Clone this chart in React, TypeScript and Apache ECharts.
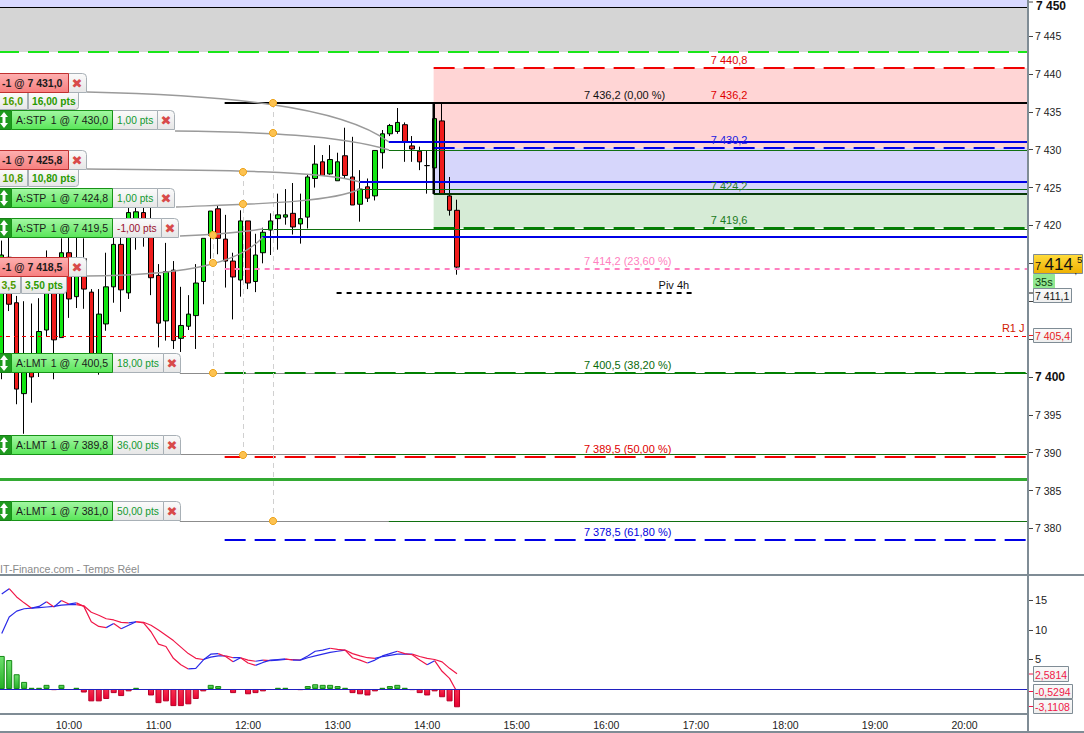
import React, { useEffect, useRef } from "react";
import * as echarts from "echarts";

const FONT = "'Liberation Sans', Arial, sans-serif";
const SLOTS = 138;
const categories: string[] = Array.from({ length: SLOTS }, (_, i) => {
  const m = 9 * 60 + 15 + i * 5;
  return `${String(Math.floor(m / 60)).padStart(2, "0")}:${String(m % 60).padStart(2, "0")}`;
});

const opens = [7400.8,7415.8,7409.8,7397.8,7402.1,7400.8,7406.2,7412,7405.2,7416.4,7410.6,7415.6,7411.2,7400.8,7407,7411.9,7417.5,7411.1,7419.6,7421.7,7420,7413.4,7407.4,7414.1,7405.1,7406.7,7408.1,7412.6,7418.7,7422.2,7418.2,7415.3,7412.8,7420.6,7412.6,7416.4,7419.4,7420.9,7421.1,7421.6,7420.2,7421.1,7426.2,7428.4,7426.8,7425.9,7429.2,7426.4,7422.8,7425.1,7423.9,7429.6,7432.1,7432.4,7433.3,7430.5,7429.8,7427.9,7427.6,7433.8,7423.9,7422];
const closes = [7416.1,7409.6,7398.4,7400.8,7400,7406,7411.6,7404.9,7416.4,7410.3,7415.1,7411.6,7401.5,7408.3,7411.9,7417.5,7411.5,7421.7,7421.8,7419.8,7413.1,7407.1,7413.9,7404.8,7406.8,7408.3,7412.4,7418.3,7421.9,7418.3,7415.3,7413.2,7420.6,7412.4,7416.1,7419.1,7420.6,7421.4,7421.4,7419.8,7420.9,7426.4,7428.1,7426.6,7428.7,7428.4,7426.6,7422.7,7424.8,7423.6,7429.9,7432.1,7433.2,7433.6,7431,7430.1,7428.4,7427.9,7434.1,7424.2,7422,7414.5];
const lows = [7399.7,7408.7,7396.4,7392.5,7396.6,7400,7405.3,7399.7,7405.2,7407.8,7409.1,7409,7401.5,7400.3,7406.1,7409.8,7408.6,7410.3,7416.8,7417.2,7410.8,7403.9,7404.8,7403.7,7403.3,7406.2,7403.7,7409.6,7415.6,7416.2,7411.8,7407.6,7410.6,7411.6,7411.2,7415,7416.1,7416.8,7420.1,7418.8,7417.6,7419.6,7425,7426.6,7426.7,7425.9,7426.2,7422.7,7420.5,7423.1,7423.3,7427.5,7431.8,7432.1,7428.4,7428.4,7427.3,7424.2,7424.2,7424.2,7421.3,7413.5];
const highs = [7418,7418.4,7410.7,7410,7409.7,7410.4,7416.7,7414,7418.3,7418.4,7418.4,7418.3,7411.6,7411.6,7416.4,7418.5,7418.4,7422.6,7422.6,7422.6,7422.4,7414.9,7417.7,7415.3,7411.9,7410.8,7414.9,7418.3,7421.9,7422.7,7421.4,7416.4,7422,7420.6,7418.9,7419.7,7421.6,7424.2,7424.8,7425.6,7424.2,7426.8,7430.6,7429.3,7430.6,7429.6,7432.9,7431.7,7427.3,7426.2,7429.9,7432.6,7433.4,7435.5,7433.6,7431.8,7430.4,7429.9,7436.1,7436.2,7426.4,7423.4];

const fastLine = [16.1,17,15.6,14.6,13.7,14,14.8,13.9,15,14.4,14.6,14,11.4,10.6,10.4,11.1,10.2,10.8,11.4,11.2,9.7,7.6,7.2,5.2,4.1,3.4,3.5,4.9,5.9,6,5.5,4.6,5.3,4.4,4,4.5,4.9,5,5.1,4.9,4.9,5.6,6.4,6.6,6.9,6.7,6.6,5.3,4.9,4.4,4.9,5.6,6,6.4,6,5.8,4.9,4.1,4.8,3,1.8,-0.5];
const slowLine = [9.4,12.2,13.2,13.6,13.7,13.8,13.9,14,14.2,14.3,14.3,14.1,13,12.5,11.9,11.7,11.3,11.2,11.4,11.3,10.8,10,9.1,8.2,7.1,6,5.2,5,5.4,5.6,5.6,5.3,5.3,4.9,4.7,4.9,4.8,4.9,5,5,4.9,5.3,5.6,5.9,6.2,6.4,6.6,6,5.6,5.3,5.2,5.5,5.7,5.9,5.9,5.9,5.5,5.2,5,4.6,3.5,2.6];
const histogram = [5.6,4.9,2.5,1.2,0.2,0.2,0.7,-0.2,0.7,0,0.2,-0.6,-2.1,-2.1,-1.7,-0.7,-1.2,-0.4,0.2,0,-1.1,-2.4,-2.1,-2.9,-2.9,-2.6,-1.7,-0.4,0.7,0.5,0,-0.7,0,-0.9,-0.7,-0.4,0,0.2,0.2,0,-0.2,0.5,0.8,0.7,0.7,0.5,0.2,-0.7,-0.9,-1.1,-0.4,0.2,0.5,0.7,0.2,-0.2,-0.7,-1.1,-0.4,-1.4,-2.1,-3.1];

const priceTicks = [7380,7385,7390,7395,7400,7405,7410,7415,7420,7425,7430,7435,7440,7445];
const priceLabels = [7380,7385,7390,7395,7400,7420,7425,7430,7435,7440,7445];
const indicatorTicks = [5,10,15];

const bandPrices = [[7449.8,7448.8],[7448.8,7442.9],[7440.8,7430.2],[7430.2,7424.2],[7424.2,7419.6]];
const bandStyles = [{ from: 0, fill: "#d9d9ff" },{ from: 0, fill: "#d5d5d5" },{ from: 58, fill: "#ffd5d5" },{ from: 58, fill: "#d6d6fb" },{ from: 58, fill: "#d6ebd6" }];

const levelPrices = [7448.8,7442.9,7440.8,7436.2,7431,7430.2,7430,7425.8,7424.8,7424.2,7419.6,7419.5,7418.5,7414.2,7411.1,7405.4,7400.5,7400.5,7400.5,7389.8,7389.8,7389.5,7386.5,7381,7381,7378.5];
const LONG = [21, 9];
const levelStyles: any[] = [
  { from: 0, color: "#000", w: 1 },
  { from: 0, color: "#19e619", w: 2, dash: LONG },
  { from: 58, color: "#f00000", w: 2, dash: LONG },
  { from: 30, color: "#000", w: 2 },
  { from: 52, color: "#0000e6", w: 2 },
  { from: 58, color: "#0000e6", w: 2, dash: LONG },
  { from: 52, color: "#107010", w: 1 },
  { from: 48, color: "#0000e6", w: 2 },
  { from: 48, color: "#107010", w: 1 },
  { from: 58, color: "#063a06", w: 2 },
  { from: 58, color: "#008000", w: 2, dash: LONG },
  { from: 35, color: "#107010", w: 1 },
  { from: 35, color: "#0000e6", w: 2 },
  { from: 30, color: "#ff80c0", w: 2, dash: [5, 5] },
  { from: 45, to: 93, color: "#000", w: 2, dash: [5, 5] },
  { from: 0, color: "#f00000", w: 1, dash: [4, 4] },
  { from: 24, to: 48, color: "#8c8c8c", w: 1 },
  { from: 48, color: "#107010", w: 1 },
  { from: 30, color: "#008000", w: 2, dash: LONG },
  { from: 24, to: 48, color: "#8c8c8c", w: 1 },
  { from: 48, color: "#107010", w: 1 },
  { from: 30, color: "#f00000", w: 2, dash: LONG },
  { from: 0, color: "#33aa33", w: 3 },
  { from: 24, to: 52, color: "#8c8c8c", w: 1 },
  { from: 52, color: "#107010", w: 1 },
  { from: 30, color: "#0000e6", w: 2, dash: LONG },
];

const labelTexts = ["7 440,8","7 436,2 (0,00 %)","7 436,2","7 430,2","7 424,2","7 419,6","7 414,2 (23,60 %)","Piv 4h","R1 J","7 400,5 (38,20 %)","7 389,5 (50,00 %)","7 378,5 (61,80 %)"];
const labelPrices = [7440.8,7436.2,7436.2,7430.2,7424.2,7419.6,7414.2,7411.1,7405.4,7400.5,7389.5,7378.5];
const labelCats = [95,78,95,95,95,95,78,88,134,78,78,78];
const labelColors = ["#e00000","#111","#e00000","#2020e0","#2a7a2a","#1a7a1a","#ff80c0","#111","#d02000","#0a6a0a","#e00000","#0000e0"];

function slopeRuns(values: number[]) {
  const runs: any[] = [];
  let start = 0;
  const up = (i: number) => values[i + 1] >= values[i];
  for (let i = 1; i <= values.length - 1; i++) {
    if (i === values.length - 1 || up(i) !== up(start)) {
      const data = values.map((v, k) => (k >= start && k <= i ? v : null));
      runs.push({
        type: "line", xAxisIndex: 1, yAxisIndex: 1, data, showSymbol: false, silent: true, z: 4,
        connectNulls: false, lineStyle: { width: 1.2, color: up(start) ? "#2a2ae8" : "#f01848" },
      });
      start = i;
    }
  }
  return runs;
}

const grad = (a: string, b: string) => new echarts.graphic.LinearGradient(0, 0, 0, 1, [{ offset: 0, color: a }, { offset: 1, color: b }]);
const FRAME = "#7f8c95";
const GRAY_BOX = "#a8b0b6";

function txt(x: number, y: number, text: string, fill: string, size = 10.5, weight: any = "normal", align = "left", z = 20) {
  return { type: "text", x, y, z, silent: true, style: { text, fill, fontSize: size, fontWeight: weight, fontFamily: FONT, align, verticalAlign: "middle" } };
}
function box(x: number, y: number, w: number, h: number, fill: any, stroke: string, r: any = 0, z = 19) {
  return { type: "rect", z, silent: true, shape: { x: x + 0.5, y: y + 0.5, width: w - 1, height: h - 1, r }, style: { fill, stroke, lineWidth: 1 } };
}
function cross(x: number, y: number, z = 21) {
  return { type: "text", x, y, z, silent: true, style: { text: "\u2716", fill: "#d84a4a", fontSize: 13, fontFamily: "'DejaVu Sans'", align: "center", verticalAlign: "middle" } };
}
function updown(cx: number, cy: number) {
  const s = { fill: "#fff" };
  return [
    { type: "polygon", z: 21, silent: true, shape: { points: [[cx, cy - 8], [cx + 4, cy - 3], [cx - 4, cy - 3]] }, style: s },
    { type: "polygon", z: 21, silent: true, shape: { points: [[cx, cy + 8], [cx + 4, cy + 3], [cx - 4, cy + 3]] }, style: s },
    { type: "rect", z: 21, silent: true, shape: { x: cx - 1.5, y: cy - 4, width: 3, height: 8 }, style: s },
  ];
}
function orderPill(y: number, kind: string, order: string, pts: string, ptsColor: string, boxEnd: number) {
  const h = 20, cy = y + h / 2;
  return [
    box(108, y, boxEnd - 108, h, grad("#fbfbfb", "#e6e6e6"), GRAY_BOX, 0),
    box(boxEnd - 1, y, 18, h, grad("#fbfbfb", "#e6e6e6"), GRAY_BOX, [0, 4, 0, 0]),
    cross(boxEnd + 8, cy),
    box(-2, y, 14, h, "#1f9a1f", "#158015", 0),
    ...updown(4, cy),
    box(11, y, 102, h, grad("#a4f7a4", "#58e658"), "#179317", 0),
    txt(16, cy, kind, "#1a1a1a", 10.5),
    txt(108, cy, order, "#1a1a1a", 10.5, "normal", "right"),
    txt(117, cy, pts, ptsColor, 10.2),
  ];
}
function closePill(y: number, order: string, short: string, pts: string, w1: number, w2: number) {
  const h = 20, cy = y + h / 2, h2 = 18;
  return [
    box(-2, y + h - 1, w1 + 2, h2, grad("#fbfbfb", "#e6e6e6"), GRAY_BOX, 0),
    box(w1, y + h - 1, w2, h2, grad("#fbfbfb", "#e6e6e6"), GRAY_BOX, [0, 0, 3, 0]),
    txt(w1 - 5, y + h + 8, short, "#4d9a00", 10.5, "bold", "right"),
    txt(w1 + 4, y + h + 8, pts, "#2a9a00", 10.2, "bold"),
    box(68, y, 19, h, grad("#fbfbfb", "#e6e6e6"), GRAY_BOX, [0, 4, 0, 0]),
    cross(77, cy),
    box(-2, y, 71, h, grad("#fdb0b0", "#f77f7f"), "#c03030", 0),
    txt(2, cy, order, "#1a1a1a", 10.5, "bold"),
  ];
}
function connector(x1: number, y1: number, c1x: number, c1y: number, c2x: number, c2y: number, x2: number, y2: number) {
  return { type: "bezierCurve", z: 8, silent: true, shape: { x1, y1, cpx1: c1x, cpy1: c1y, cpx2: c2x, cpy2: c2y, x2, y2 }, style: { stroke: "#9a9a9a", lineWidth: 1.4, fill: "none" } };
}
function handle(x: number, y: number) {
  return { type: "circle", z: 9, silent: true, shape: { cx: x, cy: y, r: 3.6 }, style: { fill: "#fdc250", stroke: "#eda520", lineWidth: 1 } };
}
function vDash(x: number, y1: number, y2: number) {
  return { type: "line", z: 6, silent: true, shape: { x1: x + 0.5, y1, x2: x + 0.5, y2 }, style: { stroke: "#d0d0d0", lineWidth: 1, lineDash: [5, 4] } };
}
function rule(x1: number, y1: number, x2: number, y2: number, color = FRAME, lineWidth = 2, z = 12) {
  return { type: "line", z, silent: true, shape: { x1, y1, x2, y2 }, style: { stroke: color, lineWidth } };
}
function valueTag(y: number, w: number, h: number, text: string, color: string) {
  return [
    rule(1029, y + h / 2, 1033, y + h / 2, color, 1, 13),
    box(1033, y, w, h, grad("#fafafa", "#eeeeee"), FRAME, 0, 14),
    txt(1035, y + h / 2 + 0.5, text, color, 10.5, "normal", "left", 15),
  ];
}

const greenPts = "#129a30";
const overlays: any[] = [
  vDash(213, 235, 373), vDash(243, 172, 455), vDash(273, 103, 520),
  connector(87, 92, 220, 95, 340, 105, 389, 142),
  connector(175, 131, 260, 132, 340, 135, 389, 150),
  connector(87, 169, 200, 170, 320, 170, 360, 182),
  connector(176, 207, 250, 204, 330, 203, 360, 189),
  connector(180, 236, 205, 235, 235, 233, 263, 229),
  connector(87, 276, 170, 275, 235, 268, 263, 237),
  handle(273, 103), handle(273, 133), handle(243, 172), handle(243, 204), handle(213, 235), handle(213, 263), handle(213, 373), handle(243, 455), handle(273, 521),
  rule(433.5, 102, 433.5, 194, "#000", 2, 7),
  ...orderPill(110, "A:STP", "1 @ 7 430,0", "1,00 pts", greenPts, 158),
  ...closePill(73, "-1 @ 7 431,0", "16,0", "16,00 pts", 28, 51),
  ...orderPill(188, "A:STP", "1 @ 7 424,8", "1,00 pts", greenPts, 158),
  ...closePill(150, "-1 @ 7 425,8", "10,8", "10,80 pts", 28, 51),
  ...orderPill(218, "A:STP", "1 @ 7 419,5", "-1,00 pts", "#9a1030", 162),
  ...closePill(257, "-1 @ 7 418,5", "3,5", "3,50 pts", 21, 46),
  ...orderPill(353, "A:LMT", "1 @ 7 400,5", "18,00 pts", greenPts, 164),
  ...orderPill(435, "A:LMT", "1 @ 7 389,8", "36,00 pts", greenPts, 164),
  ...orderPill(501, "A:LMT", "1 @ 7 381,0", "50,00 pts", greenPts, 164),
  txt(0, 569, "IT-Finance.com - Temps R\u00e9el", "#8a8a8a", 10.7, "normal", "left", 11),
  rule(0, 575, 1084, 575), rule(0, 714, 1028, 714), rule(0, 732, 1084, 732), rule(1028, 0, 1028, 732),
  rule(1029, 2, 1033, 2, "#444", 1),
  txt(1036, 6, "7 450", "#111", 12, "bold", "left", 15),
  box(1033, 254, 50, 20, grad("#ffdc3c", "#eeb000"), FRAME, 0, 14),
  txt(1035, 266, "7", "#111", 11, "normal", "left", 15),
  txt(1044.5, 264, "414", "#111", 17, "normal", "left", 15),
  txt(1074.5, 271, ",", "#111", 9, "normal", "left", 15),
  txt(1077, 259, "5", "#111", 9.5, "normal", "left", 15),
  box(1033, 274, 22, 16, "#92e892", "#92e892", 0, 13),
  txt(1035, 282, "35s", "#0d3d0d", 11, "normal", "left", 15),
  rule(1029, 293, 1033, 293, "#111", 1, 13),
  box(1033, 288, 39, 15, grad("#fafafa", "#eeeeee"), FRAME, 0, 14),
  txt(1035, 296, "7 411,1", "#111", 10.5, "normal", "left", 15),
  ...valueTag(328, 39, 15, "7 405,4", "#e82020"),
  ...valueTag(666, 36, 16, "2,5814", "#f01848"),
  ...valueTag(684, 40, 15, "-0,5294", "#f01848"),
  ...valueTag(699, 40, 15, "-3,1108", "#f01848"),
];

export default function App() {
  const ref = useRef<HTMLDivElement>(null);
  useEffect(() => {
    document.body.style.margin = "0";
    const chart = echarts.init(ref.current!, undefined, { renderer: "svg" });
    const candleData = opens.map((o, i) => [o, closes[i], lows[i], highs[i]]);
    const barData = histogram.map((v) => ({
      value: v === 0 ? null : v,
      itemStyle: v > 0
        ? { color: grad("#6ee06e", "#25b025"), borderColor: "#148a14", borderWidth: 1 }
        : { color: grad("#f83050", "#e80030"), borderColor: "#b80028", borderWidth: 1 },
    }));
    chart.setOption({
      animation: false,
      backgroundColor: "#fff",
      grid: [
        { left: -2, right: 56, top: 0, height: 575, outerBoundsMode: "none" },
        { left: -2, right: 56, top: 575, height: 139, outerBoundsMode: "none" },
      ],
      xAxis: [
        { type: "category", gridIndex: 0, data: categories, show: false, boundaryGap: true },
        {
          type: "category", gridIndex: 1, data: categories, boundaryGap: true,
          axisLine: { show: false },
          axisTick: { length: 4, alignWithLabel: true, interval: (_: number, v: string) => v.endsWith(":00"), lineStyle: { color: FRAME } },
          axisLabel: { interval: (_: number, v: string) => v.endsWith(":00"), color: "#222", fontSize: 10.5, fontFamily: FONT, margin: 5 },
        },
      ],
      yAxis: [
        {
          type: "value", gridIndex: 0, position: "right", min: 7373.86, max: 7449.76, scale: true,
          splitLine: { show: false }, axisLine: { show: false },
          axisTick: { show: true, length: 5, customValues: priceTicks, lineStyle: { color: "#444" } },
          axisLabel: {
            customValues: priceLabels, margin: 7, align: "left", color: "#222", fontSize: 10.5, fontFamily: FONT,
            formatter: (v: number) => {
              const s = "7 " + String(Math.round(v) - 7000).padStart(3, "0");
              return v === 7400 ? `{b|${s}}` : s;
            },
            rich: { b: { fontSize: 12, fontWeight: "bold", fontFamily: FONT, color: "#111" } },
          },
        },
        {
          type: "value", gridIndex: 1, position: "right", min: -4.24, max: 19.32,
          splitLine: { show: false }, axisLine: { show: false },
          axisTick: { show: true, length: 5, customValues: indicatorTicks, lineStyle: { color: "#444" } },
          axisLabel: { customValues: indicatorTicks, margin: 7, align: "left", color: "#222", fontSize: 11, fontFamily: FONT },
        },
      ],
      series: [
        {
          type: "custom", xAxisIndex: 0, yAxisIndex: 0, z: 1, silent: true, encode: { x: 0, y: 1 },
          data: bandPrices.map((b, i) => [bandStyles[i].from, b[0], b[1]]),
          renderItem: (p: any, api: any) => {
            const cs = p.coordSys;
            const st = bandStyles[p.dataIndex];
            const a = api.coord([api.value(0), api.value(1)]);
            const b = api.coord([api.value(0), api.value(2)]);
            const x = st.from === 0 ? cs.x : a[0] - 1;
            return { type: "rect", shape: { x, y: Math.round(a[1]), width: cs.x + cs.width - x, height: Math.round(b[1]) - Math.round(a[1]) }, style: { fill: st.fill } };
          },
        },
        {
          type: "candlestick", xAxisIndex: 0, yAxisIndex: 0, data: candleData, barWidth: 5, z: 3, silent: true,
          itemStyle: { color: "#12e612", color0: "#f01c1c", borderColor: "#000", borderColor0: "#000", borderWidth: 1 },
        },
        {
          type: "custom", xAxisIndex: 0, yAxisIndex: 0, z: 5, silent: true, encode: { x: 0, y: 1 },
          data: levelPrices.map((v, i) => [levelStyles[i].from, v]),
          renderItem: (p: any, api: any) => {
            const cs = p.coordSys;
            const st = levelStyles[p.dataIndex];
            const a = api.coord([api.value(0), api.value(1)]);
            const x1 = st.from === 0 ? cs.x : a[0] - 1;
            const x2 = st.to != null ? api.coord([st.to, api.value(1)])[0] : cs.x + cs.width;
            const y = st.w % 2 ? Math.round(a[1]) + 0.5 : Math.round(a[1]);
            return { type: "line", shape: { x1, y1: y, x2, y2: y }, style: { stroke: st.color, lineWidth: st.w, lineDash: st.dash || null } };
          },
        },
        {
          type: "custom", xAxisIndex: 0, yAxisIndex: 0, z: 6, silent: true, encode: { x: 0, y: 1 },
          data: labelPrices.map((v, i) => [labelCats[i], v]),
          renderItem: (p: any, api: any) => {
            const a = api.coord([api.value(0), api.value(1)]);
            return {
              type: "text", x: a[0], y: a[1] - 8,
              style: { text: labelTexts[p.dataIndex], fill: labelColors[p.dataIndex], fontSize: 11, fontFamily: FONT, align: "left", verticalAlign: "middle" },
            };
          },
        },
        {
          type: "bar", xAxisIndex: 1, yAxisIndex: 1, data: barData, barWidth: 6, silent: true, z: 3,
          markLine: { silent: true, symbol: "none", animation: false, label: { show: false }, lineStyle: { color: "#2020c0", width: 1, type: "solid" }, data: [{ yAxis: 0 }] },
        },
        ...slopeRuns(slowLine),
        ...slopeRuns(fastLine),
      ],
      graphic: { elements: overlays },
    });
    return () => chart.dispose();
  }, []);
  return <div ref={ref} style={{ width: 1084, height: 733 }} />;
}
